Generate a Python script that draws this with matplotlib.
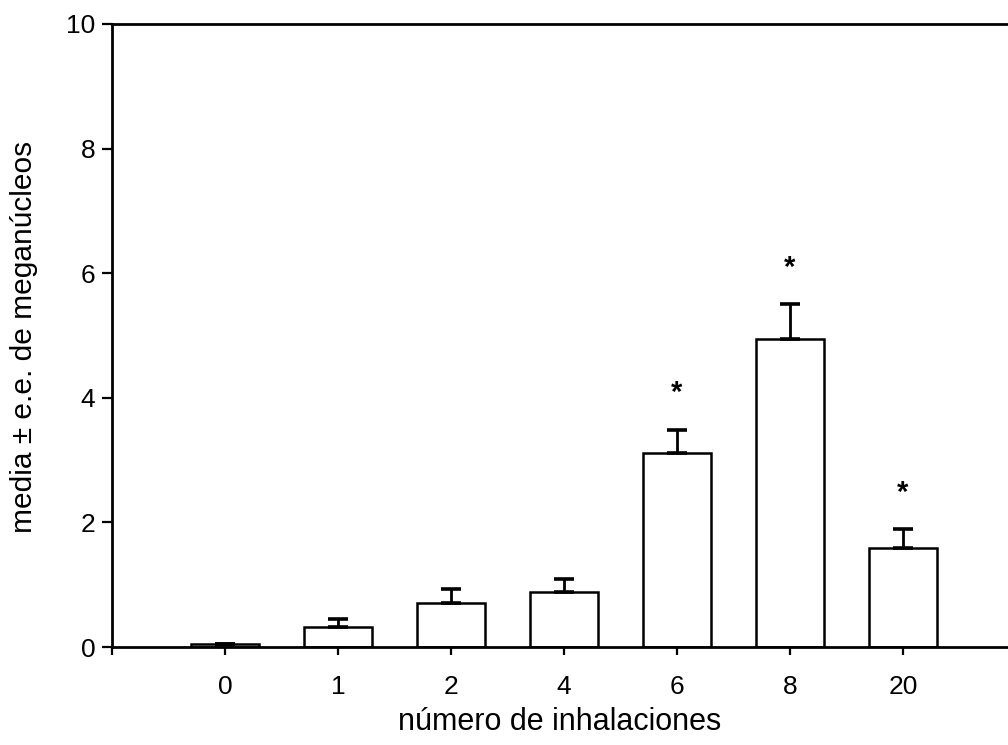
import matplotlib
matplotlib.use("Agg")
import matplotlib.pyplot as plt

# data
inhalaciones = ["0", "1", "2", "4", "6", "8", "20"]
media = [0.05, 0.32, 0.70, 0.88, 3.12, 4.94, 1.59]
error = [0.0, 0.13, 0.23, 0.21, 0.37, 0.56, 0.30]
significativo = [False, False, False, False, True, True, True]

plt.rcParams['font.family'] = ['Liberation Sans', 'DejaVu Sans']

fig = plt.figure(figsize=(10.08, 7.45), dpi=100)
ax = fig.add_axes([0.111, 0.1315, 0.889, 0.8363])

pos = list(range(1, len(inhalaciones) + 1))
ax.bar(pos, media, width=0.6, color='white', edgecolor='black', linewidth=1.8, zorder=2)
ax.errorbar(pos, media, yerr=[[0] * len(error), error], fmt='none', ecolor='black',
            elinewidth=2, capsize=7, capthick=2.6, zorder=3)

# significance stars
for p, m, e, s in zip(pos, media, error, significativo):
    if s:
        ax.text(p, m + e + 0.36, "*", ha='center', va='bottom', fontsize=21, fontweight='bold')

ax.set_xlim(0, 7.93)
ax.set_ylim(0, 10)
ax.set_xticks([0] + pos)
ax.set_xticklabels([""] + inhalaciones)
ax.set_yticks([0, 2, 4, 6, 8, 10])
ax.tick_params(axis='y', direction='out', length=7, width=1.6, labelsize=19, pad=5)
ax.tick_params(axis='x', direction='out', length=6, width=1.6, labelsize=19, pad=14)

ax.spines['right'].set_visible(False)
for s in ['left', 'top', 'bottom']:
    ax.spines[s].set_linewidth(2)

ax.set_xlabel("número de inhalaciones", fontsize=22)
ax.set_ylabel("media ± e.e. de meganúcleos", fontsize=21.5)
ax.xaxis.set_label_coords(0.5, -0.097)
ax.yaxis.set_label_coords(-0.082, 0.498)

fig.savefig("out.png", dpi=100)
